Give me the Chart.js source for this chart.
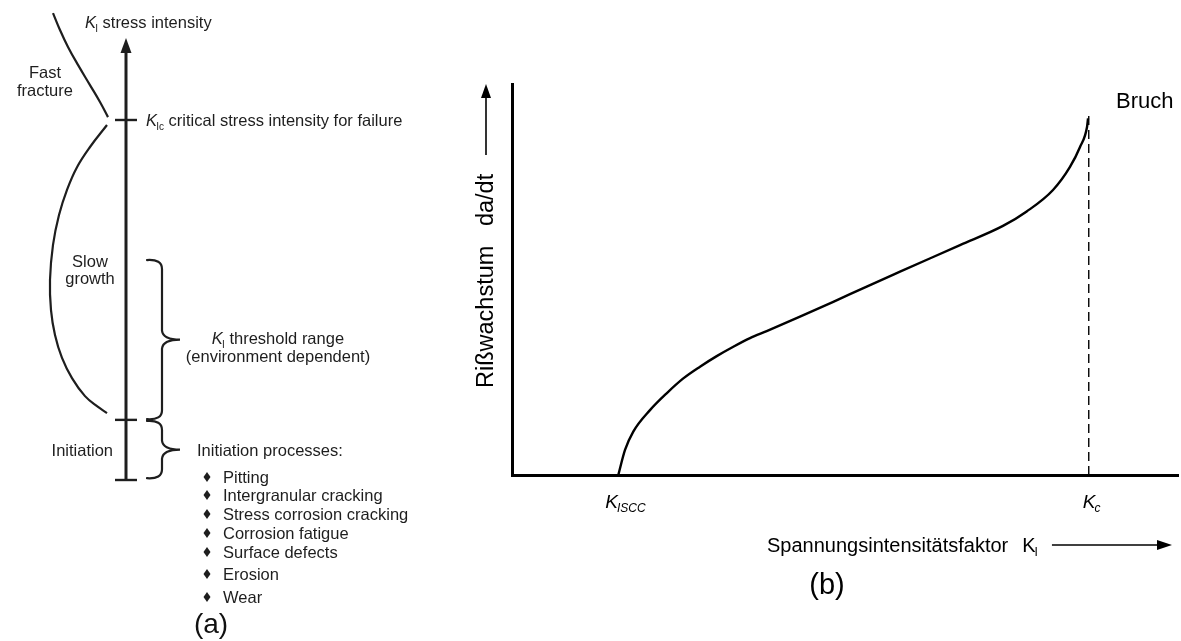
<!DOCTYPE html>
<html>
<head>
<meta charset="utf-8">
<script src="https://cdn.jsdelivr.net/npm/chart.js@4/dist/chart.umd.min.js"></script>
<style>
  html, body { margin: 0; padding: 0; background: #fff; }
  #wrap { position: relative; width: 1181px; height: 641px; }
  #wrap canvas { position: absolute; left: 0; top: 0; }
</style>
</head>
<body>
<div id="wrap">
  <canvas id="diagA" width="1181" height="641"></canvas>
  <canvas id="chartB" width="1181" height="641"></canvas>
</div>
<script>
// ---- panel (a): K_I scale, 0 = start of initiation, 100 = K_Ic ----
const stageLevels = [0, 16.7, 100];            // tick marks on the K_I axis
const axisTop = 122.8;                          // arrow tip
const thresholdRange = [16.9, 61.1];            // K_I threshold range brace
const initiationRange = [0.5, 16.4];            // initiation brace
const fastFractureX = [5.3, 6.0, 6.8, 7.8, 9.0, 10.0, 10.8];
const fastFractureY = [129.7, 125.0, 120.3, 115.3, 109.7, 105.0, 100.8];
const slowGrowthX = [10.7, 9.0, 7.7, 6.7, 5.9, 5.3, 5.0, 5.1, 5.5, 6.2, 7.2, 8.5, 9.8, 10.7];
const slowGrowthY = [98.6, 92.5, 86.9, 80.6, 73.6, 65.3, 55.6, 47.2, 40.3, 33.9, 28.3, 23.3, 20.3, 18.6];
const initiationProcesses = ['Pitting', 'Intergranular cracking', 'Stress corrosion cracking',
  'Corrosion fatigue', 'Surface defects', 'Erosion', 'Wear'];

// ---- panel (b): crack growth rate da/dt over K_I ----
const kValues = [15.96, 16.97, 18.21, 20.72, 23.22, 25.72, 28.23, 30.74, 33.23, 35.74, 38.24, 43.24,
  48.24, 53.26, 58.26, 67.27, 73.72, 77.28, 81.23, 83.78, 85.29, 86.34, 86.49];
const growthRate = [0, 6.4, 11.1, 16.6, 20.9, 24.7, 27.7, 30.4, 32.8, 35.0, 36.8, 40.5,
  44.3, 48.2, 52.0, 58.8, 63.7, 67.4, 72.9, 78.8, 83.9, 89.0, 91.2];
const K_ISCC = 15.96;
const K_C = 86.6;
const kcLineTop = 92.6;

const FONT = '"Liberation Sans", Arial, Helvetica, sans-serif';
const INK_A = '#1e1e1e';
const INK_B = '#000';
const AXIS_X = 12.6;

const toXY = (xs, ys) => xs.map((v, i) => ({ x: v, y: ys[i] }));

function drawK(ctx, x, y, size, sub, subItalic, kItalic = true) {
  ctx.textAlign = 'left';
  ctx.font = `${kItalic ? 'italic ' : ''}${size}px ${FONT}`;
  ctx.fillText('K', x, y);
  const w = ctx.measureText('K').width;
  const s = Math.round(size * 0.62);
  ctx.font = `${subItalic ? 'italic ' : ''}${s}px ${FONT}`;
  ctx.fillText(sub, x + w - size * 0.05, y + size * 0.22);
  return x + w - size * 0.05 + ctx.measureText(sub).width;
}

function drawBrace(ctx, x0, x1, x2, yTop, yBot) {
  const ym = (yTop + yBot) / 2;
  const r = 9;
  ctx.beginPath();
  ctx.moveTo(x0, yTop);
  ctx.quadraticCurveTo(x1, yTop - 1, x1, yTop + r);
  ctx.lineTo(x1, ym - r);
  ctx.quadraticCurveTo(x1 + 1, ym, x2, ym);
  ctx.quadraticCurveTo(x1 + 1, ym, x1, ym + r);
  ctx.lineTo(x1, yBot - r);
  ctx.quadraticCurveTo(x1, yBot + 1, x0, yBot);
  ctx.stroke();
}

function arrowHead(ctx, x, y, dir, len, half) {
  ctx.beginPath();
  if (dir === 'up') { ctx.moveTo(x, y); ctx.lineTo(x - half, y + len); ctx.lineTo(x + half, y + len); }
  else { ctx.moveTo(x, y); ctx.lineTo(x - len, y - half); ctx.lineTo(x - len, y + half); }
  ctx.closePath();
  ctx.fill();
}

// ---------- panel (a) ----------
const diagramText = {
  id: 'diagramText',
  afterDatasetsDraw(chart) {
    const { ctx, scales: { x, y } } = chart;
    const px = v => x.getPixelForValue(v), py = v => y.getPixelForValue(v);
    ctx.save();
    ctx.fillStyle = INK_A; ctx.strokeStyle = INK_A;
    ctx.textBaseline = 'alphabetic';

    arrowHead(ctx, px(AXIS_X), py(axisTop), 'up', 15, 5.5);

    ctx.lineWidth = 2.2;
    ctx.lineCap = 'round';
    drawBrace(ctx, px(14.7), px(16.2), px(18.0), py(thresholdRange[1]), py(thresholdRange[0]));
    drawBrace(ctx, px(14.7), px(16.2), px(18.0), py(initiationRange[1]), py(initiationRange[0]));

    const f = 16.5;
    let e = drawK(ctx, 85, 28, f, 'I', false);
    ctx.font = `${f}px ${FONT}`;
    ctx.fillText(' stress intensity', e, 28);

    e = drawK(ctx, 146, py(stageLevels[2]) + 6, f, 'Ic', false);
    ctx.font = `${f}px ${FONT}`;
    ctx.fillText(' critical stress intensity for failure', e, py(stageLevels[2]) + 6);

    ctx.textAlign = 'center';
    ctx.fillText('Fast', 45, 78);
    ctx.fillText('fracture', 45, 96);
    ctx.fillText('Slow', 90, 267);
    ctx.fillText('growth', 90, 284);

    // threshold label centred
    ctx.font = `${f}px ${FONT}`;
    const tw = ctx.measureText(' threshold range').width;
    ctx.font = `italic ${f}px ${FONT}`;
    const kw = ctx.measureText('K').width + 4;
    e = drawK(ctx, 279 - (tw + kw) / 2, 344, f, 'I', false);
    ctx.font = `${f}px ${FONT}`;
    ctx.fillText(' threshold range', e, 344);
    ctx.textAlign = 'center';
    ctx.fillText('(environment dependent)', 278, 362);

    ctx.textAlign = 'right';
    ctx.fillText('Initiation', 113, 456);
    ctx.textAlign = 'left';
    ctx.fillText('Initiation processes:', 197, 456);

    const baselines = [483, 501, 520, 539, 558, 580, 603];
    initiationProcesses.forEach((t, i) => {
      const b = baselines[i];
      ctx.beginPath();
      ctx.moveTo(207, b - 11); ctx.lineTo(210.5, b - 6); ctx.lineTo(207, b - 1); ctx.lineTo(203.5, b - 6);
      ctx.closePath(); ctx.fill();
      ctx.fillText(t, 223, b);
    });

    ctx.font = `28px ${FONT}`;
    ctx.fillStyle = '#111';
    ctx.textAlign = 'center';
    ctx.fillText('(a)', 211, 633);
    ctx.restore();
  }
};

const lineDs = (data, width, extra = {}) => Object.assign({
  data, showLine: true, borderColor: INK_A, borderWidth: width,
  pointRadius: 0, fill: false, tension: 0
}, extra);

const datasetsA = [
  lineDs([{ x: AXIS_X, y: stageLevels[0] }, { x: AXIS_X, y: axisTop - 3 }], 3),
  ...stageLevels.map(l => lineDs([{ x: 11.5, y: l }, { x: 13.7, y: l }], 2.4)),
  lineDs(toXY(fastFractureX, fastFractureY), 2.2, { tension: 0.4 }),
  lineDs(toXY(slowGrowthX, slowGrowthY), 2.2, { tension: 0.4 })
];

new Chart(document.getElementById('diagA'), {
  type: 'scatter',
  data: { datasets: datasetsA },
  options: {
    responsive: false, animation: false, devicePixelRatio: 1,
    layout: { padding: 0 },
    plugins: { legend: { display: false }, tooltip: { enabled: false } },
    scales: {
      x: { type: 'linear', min: 0, max: 118.1, display: false },
      y: { type: 'linear', min: -44.72, max: 133.33, display: false }
    }
  },
  plugins: [diagramText]
});

// ---------- panel (b) ----------
const chartText = {
  id: 'chartText',
  afterDatasetsDraw(chart) {
    const { ctx, chartArea: a, scales: { x } } = chart;
    ctx.save();
    ctx.fillStyle = INK_B; ctx.strokeStyle = INK_B;
    ctx.textBaseline = 'alphabetic';

    // y axis title with arrow
    ctx.save();
    ctx.translate(493, 388);
    ctx.rotate(-Math.PI / 2);
    ctx.font = `23.5px ${FONT}`;
    ctx.textAlign = 'left';
    ctx.fillText('Rißwachstum   da/dt', 0, 0);
    ctx.restore();
    ctx.lineWidth = 1.6;
    ctx.beginPath(); ctx.moveTo(486, 155); ctx.lineTo(486, a.top + 10); ctx.stroke();
    arrowHead(ctx, 486, a.top, 'up', 14, 5);

    // x axis title with arrow
    const fx = 20;
    ctx.font = `${fx}px ${FONT}`;
    ctx.textAlign = 'left';
    const t = 'Spannungsintensitätsfaktor';
    ctx.fillText(t, 767, 552);
    let e = 767 + ctx.measureText(t).width + 14;
    e = drawK(ctx, e, 552, fx, 'I', false, false);
    ctx.lineWidth = 1.6;
    const ay = 545;
    ctx.beginPath(); ctx.moveTo(e + 14, ay); ctx.lineTo(1158, ay); ctx.stroke();
    arrowHead(ctx, 1172, ay, 'right', 15, 5);

    // K_Iscc and K_c labels
    drawK(ctx, x.getPixelForValue(K_ISCC) - 13, 508, 19, 'ISCC', true);
    drawK(ctx, x.getPixelForValue(K_C) - 6, 508, 19, 'c', true);

    ctx.font = `22px ${FONT}`;
    ctx.textAlign = 'left';
    ctx.fillText('Bruch', 1116, 108);

    ctx.font = `29px ${FONT}`;
    ctx.textAlign = 'center';
    ctx.fillText('(b)', 827, 594);
    ctx.restore();
  }
};

const axisB = {
  type: 'linear', min: 0, max: 100,
  grid: { display: false, drawTicks: false },
  ticks: { display: false },
  border: { display: true, width: 3, color: INK_B }
};

new Chart(document.getElementById('chartB'), {
  type: 'scatter',
  data: {
    datasets: [
      {
        data: toXY(kValues, growthRate), showLine: true, borderColor: INK_B, borderWidth: 2.4,
        pointRadius: 0, cubicInterpolationMode: 'monotone', fill: false
      },
      {
        data: [{ x: K_C, y: 0 }, { x: K_C, y: kcLineTop }], showLine: true, borderColor: INK_B,
        borderWidth: 1.4, borderDash: [9, 5], pointRadius: 0
      }
    ]
  },
  options: {
    responsive: false, animation: false, devicePixelRatio: 1,
    layout: { padding: { left: 512, right: 3, top: 84, bottom: 166 } },
    plugins: { legend: { display: false }, tooltip: { enabled: false } },
    scales: { x: axisB, y: axisB }
  },
  plugins: [chartText]
});
</script>
</body>
</html>
